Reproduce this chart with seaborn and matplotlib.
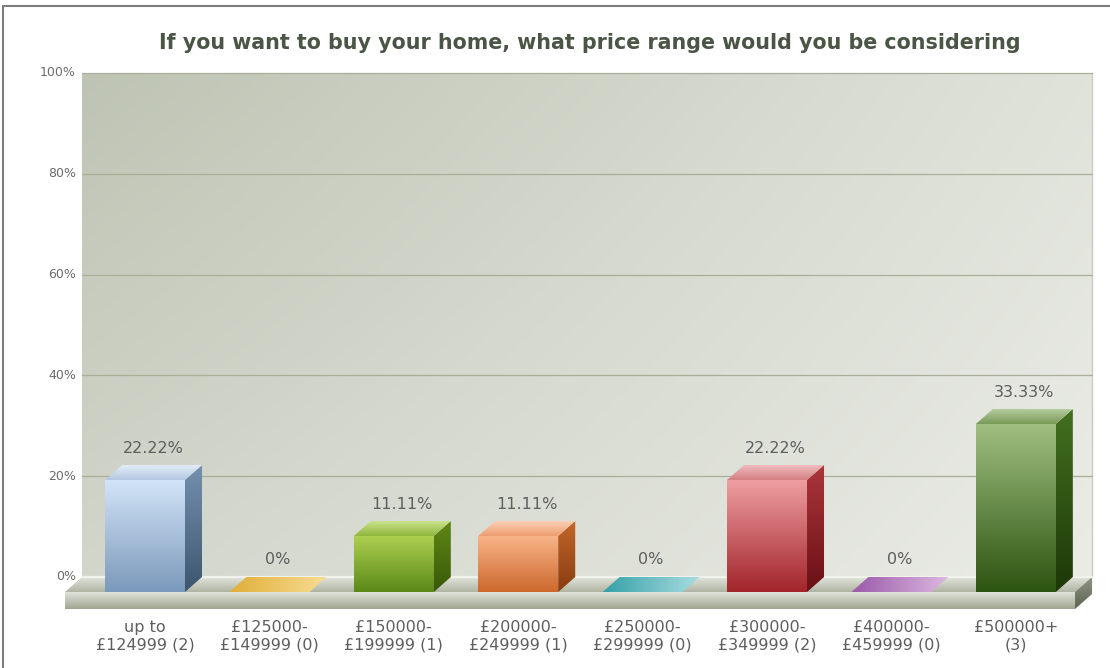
import numpy as np
import pandas as pd
import matplotlib
matplotlib.use("Agg")
import matplotlib.pyplot as plt
from matplotlib.colors import to_rgb
from matplotlib.patches import Polygon
from matplotlib.lines import Line2D
import seaborn as sns

# ---- data ----
categories = [
    "up to\n£124999 (2)",
    "£125000-\n£149999 (0)",
    "£150000-\n£199999 (1)",
    "£200000-\n£249999 (1)",
    "£250000-\n£299999 (0)",
    "£300000-\n£349999 (2)",
    "£400000-\n£459999 (0)",
    "£500000+\n(3)",
]
percent = [22.22, 0, 11.11, 11.11, 0, 22.22, 0, 33.33]
value_labels = ["22.22%", "0%", "11.11%", "11.11%", "0%", "22.22%", "0%", "33.33%"]
ytick_values = [0, 20, 40, 60, 80, 100]
title = "If you want to buy your home, what price range would you be considering"

# ---- per-bar shading: front (top, bottom), side (top, bottom), cap (front, back) ----
front_top = ["#d2e4f8", "#f0cf6a", "#adcf50", "#f8b487", "#6cc4cc", "#ee9fa2", "#c48ccc", "#a0bf80"]
front_bot = ["#7b99ba", "#d8a838", "#5a8918", "#cc682d", "#2f9aa2", "#a2242b", "#8e4c9c", "#2c5411"]
side_top = ["#7591b0", "#c09030", "#5e8816", "#c2662a", "#2a8890", "#ab363c", "#7a3c88", "#427020"]
side_bot = ["#3d556e", "#a07020", "#3a5808", "#883c10", "#1a6068", "#6a1014", "#5a2868", "#1d3807"]
cap_front = ["#b3c8e2", "#e0ae38", "#8fb63c", "#ee9d70", "#36a0a8", "#d47e82", "#9a58a8", "#789a56"]
cap_back = ["#e2ecf8", "#f7dc92", "#cbe38e", "#fad0b4", "#a8dde1", "#efbcbe", "#dcb8e0", "#b6cca0"]

sns.set_theme(style="white")
plt.rcParams["font.family"] = ["DejaVu Sans"]

fig = plt.figure(figsize=(11.1, 6.68), dpi=100)
ax = fig.add_axes([0, 0, 1, 1])

df = pd.DataFrame({"category": categories, "percent": percent})
sns.barplot(data=df, x="category", y="percent", hue="category",
            palette=front_bot, width=0.643, saturation=1, legend=False,
            ax=ax, zorder=4, linewidth=0)

# view: one category = 124.4 px, one percent = 5.04 px
XLIM = (-1.1656, 7.757)
YLIM = (-15.08, 117.46)
px_x = 124.4
px_y = 5.04
dx = 17 / px_x          # depth offset of the 3-D extrusion
dy = 15 / px_y
floor_left = -0.643
floor_right = len(categories) - 0.524
floor_thick = 17 / px_y


def gradient_fill(verts, c_start, c_end, direction, zorder):
    poly = Polygon(verts, closed=True, facecolor="none", edgecolor="none", zorder=zorder)
    ax.add_patch(poly)
    xs, ys = zip(*verts)
    t = np.linspace(0, 1, 256)[:, None]
    a, b = np.array(to_rgb(c_start)), np.array(to_rgb(c_end))
    cols = a * (1 - t) + b * t
    img = cols[:, None, :] if direction == "v" else cols[None, :, :]
    ax.imshow(img, extent=(min(xs), max(xs), min(ys), max(ys)), origin="upper",
              aspect="auto", interpolation="bilinear", zorder=zorder, clip_path=poly)
    return poly


# ---- back wall with a soft diagonal gradient ----
wx0, wx1 = floor_left + dx, floor_right + dx
wy0, wy1 = dy, 100 + dy
tl, tr = np.array(to_rgb("#bec4b4")), np.array(to_rgb("#e0e3da"))
bl, br = np.array(to_rgb("#d3d6cb")), np.array(to_rgb("#eaece6"))
u = np.linspace(0, 1, 300)[None, :, None]
v = np.linspace(0, 1, 200)[:, None, None]
wall = (tl * (1 - u) + tr * u) * (1 - v) + (bl * (1 - u) + br * u) * v
ax.imshow(wall, extent=(wx0, wx1, wy0, wy1), origin="upper", aspect="auto",
          interpolation="bilinear", zorder=0)
ax.plot([wx1, wx1], [wy0, wy1], color="#c9ccc2", lw=1, zorder=1)

# gridlines and y labels on the wall
for val in ytick_values:
    if val > 0:
        ax.plot([wx0, wx1], [val + dy, val + dy], color="#a9ae98", lw=0.9, zorder=1)
    ax.text(wx0 - 6 / px_x, val + dy, f"{val}%", ha="right", va="center",
            fontsize=9, color="#6b6b6b", zorder=6)

# ---- floor slab ----
gradient_fill([(floor_left, 0), (floor_right, 0), (floor_right + dx, dy), (floor_left + dx, dy)],
              "#e2e4db", "#afb4a2", "v", 2)
ax.plot([wx0, wx1], [dy, dy], color="#f1f2ec", lw=1.6, zorder=2.1)
gradient_fill([(floor_left, -floor_thick), (floor_right, -floor_thick), (floor_right, 0), (floor_left, 0)],
              "#e0e3d9", "#9fa591", "v", 2)
gradient_fill([(floor_right, -floor_thick), (floor_right, 0), (floor_right + dx, dy),
               (floor_right + dx, dy - floor_thick)], "#8e9482", "#5c6352", "v", 2)

# ---- 3-D bars built on the seaborn bars ----
for i, cont in enumerate(ax.containers):
    bar = cont.patches[0]
    x0, w, h = bar.get_x(), bar.get_width(), bar.get_height()
    x1 = x0 + w
    if h > 0:
        bar.set_facecolor("none")
        gradient_fill([(x0, 0), (x1, 0), (x1, h), (x0, h)], front_top[i], front_bot[i], "v", 4)
        gradient_fill([(x1, 0), (x1, h), (x1 + dx, h + dy), (x1 + dx, dy)],
                      side_top[i], side_bot[i], "v", 4)
        gradient_fill([(x0, h), (x1, h), (x1 + dx, h + dy), (x0 + dx, h + dy)],
                      cap_back[i], cap_front[i], "v", 4)
    else:
        bar.set_visible(False)
        gradient_fill([(x0, 0), (x1, 0), (x1 + dx, dy), (x0 + dx, dy)],
                      cap_front[i], cap_back[i], "h", 4)
    cx = x0 + w / 2
    ax.text(cx + dx / 2, h + dy + 17 / px_y, value_labels[i], ha="center", va="center",
            fontsize=11.5, color="#5e5e5e", zorder=6)
    ax.text(cx, -8.83, categories[i], ha="center", va="center", fontsize=11.5,
            color="#5e5e5e", linespacing=1.2, zorder=6)

ax.set_xlim(*XLIM)
ax.set_ylim(*YLIM)
ax.set_aspect("auto")
ax.axis("off")

# ---- title and frame ----
fig.text(590 / 1110, 1 - 43 / 668, title, ha="center", va="center",
         fontsize=14.9, fontweight="bold", color="#4b5545")
fig.add_artist(Line2D([3 / 1110, 1], [1 - 6 / 668, 1 - 6 / 668], color="#7c7c7c", lw=1.5))
fig.add_artist(Line2D([3 / 1110, 3 / 1110], [0, 1 - 6 / 668], color="#7c7c7c", lw=1.5))

fig.savefig("out.png", dpi=100, facecolor="white")
